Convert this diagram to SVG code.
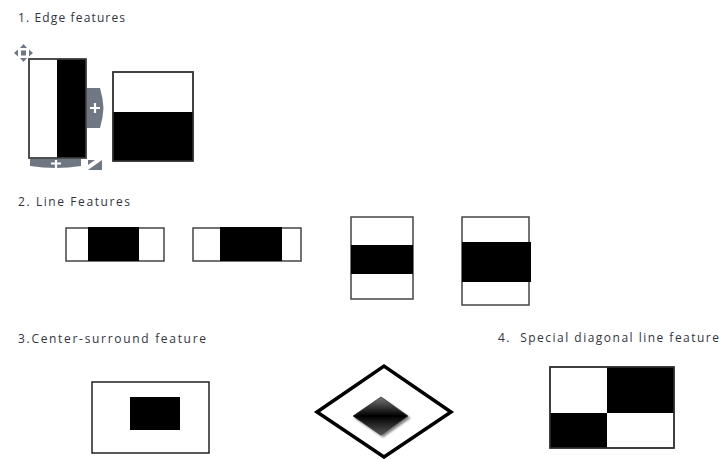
<svg xmlns="http://www.w3.org/2000/svg" width="719" height="459" viewBox="0 0 719 459">
<style>
.t{font-family:"Open Sans","DejaVu Sans",sans-serif;font-size:12px;font-weight:500;fill:#333340}
.o{fill:#fff;stroke:#444;stroke-width:1.5}
.k{fill:#000}
.h{fill:#6f7882}
</style>
<defs>
<linearGradient id="g" x1="0" y1="0" x2="0" y2="1">
<stop offset="0" stop-color="#777"/>
<stop offset="0.5" stop-color="#000"/>
<stop offset="1" stop-color="#555"/>
</linearGradient>
<filter id="sh" x="-30%" y="-30%" width="160%" height="160%">
<feGaussianBlur in="SourceAlpha" stdDeviation="1.2"/>
<feOffset dx="1.5" dy="1.5" result="b"/>
<feComponentTransfer><feFuncA type="linear" slope="0.5"/></feComponentTransfer>
<feMerge><feMergeNode/><feMergeNode in="SourceGraphic"/></feMerge>
</filter>
</defs>
<rect width="719" height="459" fill="#fff"/>
<g id="labels">
<text class="t" x="18" y="22" textLength="107">1. Edge features</text>
<text class="t" x="18" y="206" textLength="112">2. Line Features</text>
<text class="t" x="18" y="343" textLength="188">3.Center-surround feature</text>
<text class="t" x="498" y="342" textLength="221" xml:space="preserve">4.  Special diagonal line feature</text>
</g>
<g id="edge1">
<rect class="o" x="29" y="59" width="57" height="99"/>
<rect class="k" x="57" y="59" width="29" height="99"/>
<rect x="29" y="59" width="57" height="99" fill="none" stroke="#444" stroke-width="1.5"/>
</g>
<g id="handles">
<g class="h">
<path d="M14 53 L18 49.5 L18 56.5 Z M33 53 L29 49.5 L29 56.5 Z M23.5 44 L20 48 L27 48 Z M23.5 62 L20 58 L27 58 Z"/>
<rect x="21" y="50.5" width="5" height="5"/>
</g>
<path class="h" d="M87 88 L100 88 Q103 98 103.5 108 Q103 118 100 128 L87 128 Z"/>
<path d="M95 103 V113 M90 108 H100" stroke="#fff" stroke-width="2.2"/>
<path class="h" d="M30 159 L81 159 L81 166 Q56 170 30 166 Z"/>
<path d="M56 160 V168 M51 163.5 H61" stroke="#fff" stroke-width="2.2"/>
<path class="h" d="M88 170 L102 160 L102 170 Z"/>
<path class="h" d="M88 160 L95 160 L88 165 Z"/>
</g>
<g id="edge2">
<rect class="o" x="113" y="72" width="80" height="89"/>
<rect class="k" x="113" y="112" width="80" height="49"/>
<rect x="113" y="72" width="80" height="89" fill="none" stroke="#333" stroke-width="1.5"/>
</g>
<g id="line1">
<rect class="o" x="66" y="228" width="98" height="33"/>
<rect class="k" x="88" y="227" width="51" height="34"/>
</g>
<g id="line2">
<rect class="o" x="193" y="228" width="108" height="33"/>
<rect class="k" x="220" y="227" width="62" height="34"/>
</g>
<g id="line3">
<rect class="o" x="351" y="217" width="62" height="82"/>
<rect class="k" x="351" y="245" width="62" height="29"/>
</g>
<g id="line4">
<rect class="o" x="462" y="217" width="67" height="88"/>
<rect class="k" x="462" y="242" width="69" height="40"/>
</g>
<g id="center1">
<rect x="92" y="382" width="117" height="71" fill="#fff" stroke="#222" stroke-width="1.5"/>
<rect class="k" x="130" y="397" width="50" height="33"/>
</g>
<g id="center2">
<path d="M317 412 L384 366 L451 412 L384 457 Z" fill="#fff" stroke="#000" stroke-width="3.5"/>
<path d="M353 416 L381 397 L408 416 L381 435 Z" fill="url(#g)" stroke="#333" stroke-width="0.8" filter="url(#sh)"/>
</g>
<g id="diag">
<rect x="550" y="367" width="124" height="81" fill="#fff" stroke="#333" stroke-width="1.5"/>
<rect class="k" x="607" y="367" width="67" height="46"/>
<rect class="k" x="550" y="413" width="57" height="35"/>
<rect x="550" y="367" width="124" height="81" fill="none" stroke="#333" stroke-width="1.5"/>
</g>
</svg>
